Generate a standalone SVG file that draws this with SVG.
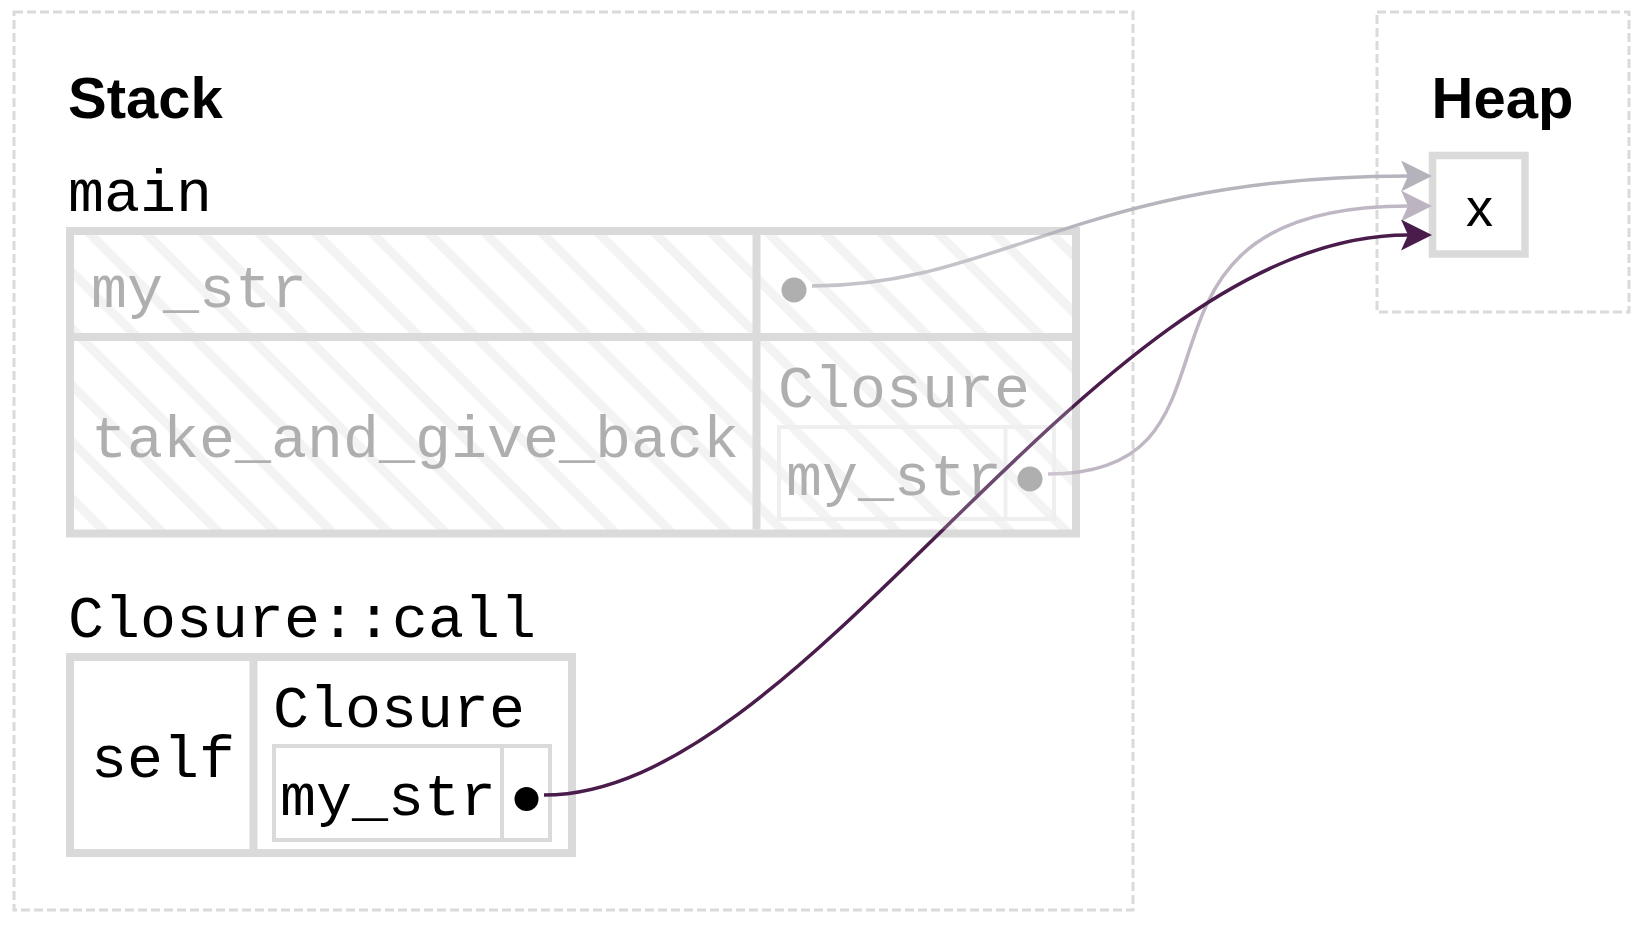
<svg xmlns="http://www.w3.org/2000/svg" width="1640" height="929" viewBox="0 0 1640 929">
<style>
.region{fill:none;stroke:#dadada;stroke-width:3;stroke-dasharray:9 4}
.title{font-family:"Liberation Sans",Arial,sans-serif;font-weight:bold;font-size:58px;fill:#000}
.mono{font-family:"Liberation Mono","DejaVu Sans Mono",monospace;font-size:60px;fill:#000}
.faded{fill:#9c9c9c}
.cell{fill:none;stroke:#dadada;stroke-width:8}
.cellf{fill:none;stroke:#d3d3d3;stroke-width:8}
.inner{fill:none;stroke:#dadada;stroke-width:4}
.innerf{fill:none;stroke:#ebebeb;stroke-width:4}
.conn{fill:none;stroke-width:3.5}
.stripe{stroke:#f0f0f0;stroke-width:9;fill:none}
</style>
<defs>
<pattern id="hatch" patternUnits="userSpaceOnUse" x="26" y="0" width="56.57" height="56.57">
<path class="stripe" d="M-10,-10 L66.57,66.57 M46.57,-10 L66.57,10 M-10,46.57 L10,66.57"/>
</pattern>
<marker id="ah1" viewBox="0 0 31 31" refX="7" refY="15.5" markerWidth="31" markerHeight="31" markerUnits="userSpaceOnUse" orient="auto">
<path d="M0,0 L31,15.5 L0,31 L7,15.5 Z" fill="#b4b2ba"/>
</marker>
<marker id="ah2" viewBox="0 0 31 31" refX="7" refY="15.5" markerWidth="31" markerHeight="31" markerUnits="userSpaceOnUse" orient="auto">
<path d="M0,0 L31,15.5 L0,31 L7,15.5 Z" fill="#bdb4c2"/>
</marker>
<marker id="ah3" viewBox="0 0 31 31" refX="7" refY="15.5" markerWidth="31" markerHeight="31" markerUnits="userSpaceOnUse" orient="auto">
<path d="M0,0 L31,15.5 L0,31 L7,15.5 Z" fill="#4a1c4c"/>
</marker>
</defs>
<rect x="0" y="0" width="1640" height="929" fill="#fff"/>

<g id="stack-region">
<rect class="region" x="14" y="12" width="1119" height="898"/>
<text class="title" x="68" y="118">Stack</text>
</g>

<g id="heap-region">
<rect class="region" x="1377" y="12" width="252" height="300"/>
<text class="title" x="1502.5" y="118" text-anchor="middle">Heap</text>
</g>

<g id="heap-x">
<rect x="1432.5" y="155.5" width="92.5" height="98.5" fill="#fff" stroke="#dadada" stroke-width="7.5"/>
<text x="1479.5" y="226" text-anchor="middle" font-family="Liberation Sans,Arial,sans-serif" font-size="54">x</text>
</g>

<g id="frame-main">
<text class="mono" x="68" y="211">main</text>
<rect x="70" y="231" width="1006" height="302.5" fill="#fff"/>
<rect x="70" y="231" width="1006" height="302.5" fill="url(#hatch)"/>
<text class="mono faded" x="91" y="307">my_str</text>
<circle cx="794" cy="290" r="12.5" fill="#9c9c9c"/>
<text class="mono faded" x="91" y="457">take_and_give_back</text>
<text class="mono faded" x="778" y="407">Closure</text>
<rect class="innerf" x="779" y="427" width="275" height="92"/>
<line class="innerf" x1="1005.5" y1="427" x2="1005.5" y2="519"/>
<text class="mono faded" x="786" y="495">my_str</text>
<circle cx="1030" cy="479" r="12.5" fill="#9c9c9c"/>
<line class="cellf" x1="74" y1="337" x2="1072" y2="337"/>
<line class="cellf" x1="756.5" y1="235" x2="756.5" y2="529.5"/>
<rect class="cell" x="70" y="231" width="1006" height="302.5"/>
</g>

<g id="frame-closure-call">
<text class="mono" x="68" y="637">Closure::call</text>
<rect class="cell" x="70" y="657" width="502" height="196" fill="#fff"/>
<line class="cell" x1="253.5" y1="657" x2="253.5" y2="853"/>
<text class="mono" x="91" y="777">self</text>
<text class="mono" x="273" y="727">Closure</text>
<rect class="inner" x="274" y="746" width="276" height="94"/>
<line class="inner" x1="502" y1="746" x2="502" y2="840"/>
<text class="mono" x="280" y="815">my_str</text>
<circle cx="526.5" cy="799" r="12" fill="#000"/>
</g>

<g id="connectors">
<path class="conn" d="M812,286 C1000,286 1083,176 1408,176" stroke="#b6b4bc" marker-end="url(#ah1)"/>
<path class="conn" d="M1048,474 C1270,474 1092,206 1408,206" stroke="#c0b7c4" marker-end="url(#ah2)"/>
<path class="conn" d="M544,795 C810,795 1094,235 1408,235" stroke="#4a1c4c" marker-end="url(#ah3)"/>
</g>

<g id="frame-main-fade">
<rect x="74" y="235" width="998" height="294.5" fill="#fff" fill-opacity="0.2"/>
</g>
</svg>
